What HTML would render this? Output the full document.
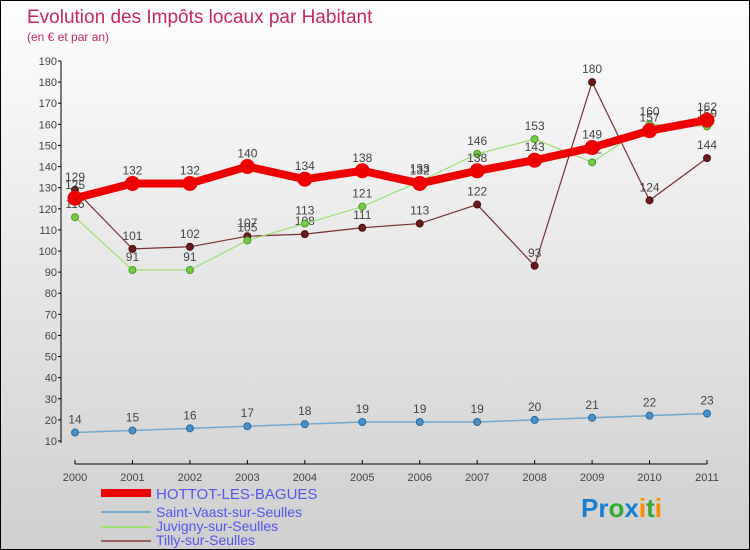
<!DOCTYPE html>
<html><head><meta charset="utf-8"><style>
body{margin:0}
#c{width:750px;height:550px;position:relative;box-sizing:border-box;border:1px solid #000;background:linear-gradient(#fefefe,#cfcfcf);font-family:"Liberation Sans",sans-serif;overflow:hidden}
</style></head><body>
<div id="c">
<svg id="s" width="750" height="550" style="position:absolute;left:0;top:0">
<text x="26" y="22" font-size="19" fill="#c8285a">Evolution des Impôts locaux par Habitant</text>
<text x="26" y="40" font-size="12" fill="#c8285a">(en € et par an)</text>
<g id="axes"></g><g id="series"></g>
<g>
<rect x="100" y="488" width="50" height="8" fill="#e00"/>
<text x="155" y="498" font-size="15" fill="#55e">HOTTOT-LES-BAGUES</text>
<rect x="100" y="510" width="50" height="2" fill="#6fa8d0"/>
<text x="155" y="516" font-size="14" fill="#55e">Saint-Vaast-sur-Seulles</text>
<rect x="100" y="525" width="50" height="2" fill="#9be070"/>
<text x="155" y="530" font-size="14" fill="#55e">Juvigny-sur-Seulles</text>
<rect x="100" y="539" width="50" height="2" fill="#a06060"/>
<text x="155" y="544" font-size="14" fill="#55e">Tilly-sur-Seulles</text>
</g>
<text x="580" y="516" font-size="26" font-weight="bold"><tspan fill="#1a7fd0">Pr</tspan><tspan fill="#3a3">o</tspan><tspan fill="#1a7fd0">x</tspan><tspan fill="#f80">i</tspan><tspan fill="#3a3">t</tspan><tspan fill="#f80">i</tspan></text>
</svg>
</div>
<script>
const years=["2000","2001","2002","2003","2004","2005","2006","2007","2008","2009","2010","2011"];
const yTicks=[10,20,30,40,50,60,70,80,90,100,110,120,130,140,150,160,170,180,190];
const hottot=[125,132,132,140,134,138,132,138,143,149,157,162];
const saintVaast=[14,15,16,17,18,19,19,19,20,21,22,23];
const juvigny=[116,91,91,105,113,121,133,146,153,142,160,159];
const tilly=[129,101,102,107,108,111,113,122,93,180,124,144];
const NS="http://www.w3.org/2000/svg";
const xs=i=>74+i*(706-74)/11;
const ys=v=>440-(v-10)*380/180;
function mk(p,t,a){const e=document.createElementNS(NS,t);for(const k in a)e.setAttribute(k,a[k]);p.appendChild(e);return e;}
const ax=document.getElementById('axes');
mk(ax,'line',{x1:60,y1:60,x2:60,y2:442,stroke:'#000'});
mk(ax,'line',{x1:74,y1:463,x2:706,y2:463,stroke:'#000'});
yTicks.forEach(v=>{mk(ax,'line',{x1:57,y1:ys(v),x2:60,y2:ys(v),stroke:'#000'});
const t=mk(ax,'text',{x:56,y:ys(v)+4,'font-size':11,fill:'#444','text-anchor':'end'});t.textContent=v;

});
years.forEach((y,i)=>{mk(ax,'line',{x1:xs(i),y1:459,x2:xs(i),y2:463,stroke:'#000'});
const t=mk(ax,'text',{x:xs(i),y:480,'font-size':11,fill:'#444','text-anchor':'middle'});t.textContent=y;

});
const sg=document.getElementById('series');
function draw(data,name,color,w,r,dot,dotStroke){
const g=mk(sg,'g',{});


mk(g,'polyline',{points:data.map((v,i)=>xs(i)+','+ys(v)).join(' '),fill:'none',stroke:color,'stroke-width':w,'stroke-linejoin':'round'});
data.forEach((v,i)=>{const c=mk(g,'circle',{cx:xs(i),cy:ys(v),r:r,fill:dot,stroke:dotStroke,'stroke-width':1});


const t=mk(g,'text',{x:xs(i),y:ys(v)-9,'font-size':12,fill:'#444','text-anchor':'middle'});t.textContent=v;

});}
draw(tilly,'tilly','#7a3030',1.2,3.5,'#6a1a1a','#4a1010');
draw(juvigny,'juvigny','#9be070',1.2,3.5,'#77cc44','#4a9a2a');
draw(saintVaast,'saint-vaast','#6fa8d0',1.5,3.5,'#4a90c8','#2a6a9a');
draw(hottot,'hottot','#ee0000',8,7,'#ee0000','#ee0000');
</script>
</body></html>
